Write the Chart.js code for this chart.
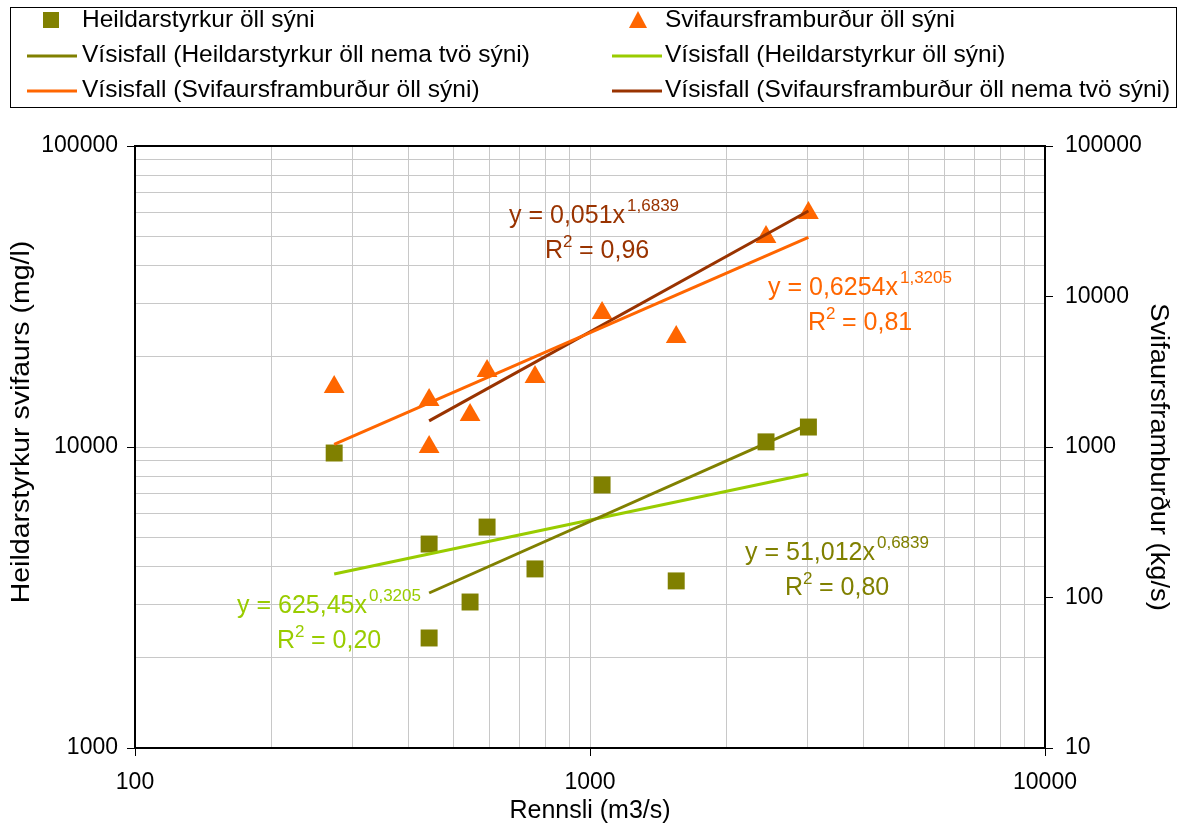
<!DOCTYPE html>
<html>
<head>
<meta charset="utf-8">
<script src="https://cdn.jsdelivr.net/npm/chart.js@4/dist/chart.umd.min.js"></script>
<style>
  html, body { margin: 0; padding: 0; background: #fff; }
  #wrap { width: 1179px; height: 825px; }
</style>
</head>
<body>
<div id="wrap"><canvas id="chart" width="1179" height="825"></canvas></div>
<script>
'use strict';

// samples: discharge (m3/s), total concentration (mg/l), suspended load (kg/s)
var rennsli = [274, 443, 443, 545, 594, 757, 1063, 1547, 2437, 3020];
var heildarstyrkur = [9550, 4760, 2320, 3055, 5420, 3935, 7480, 3590, 10400, 11650];
var svifaurs = [2505, 2050, 1000, 1633, 3200, 2920, 7770, 5380, 24850, 35900];

// power-law trendlines, end points
var tlHeildNemaX = [443, 3020], tlHeildNemaY = [3273, 11900];
var tlHeildAllX = [274, 3020], tlHeildAllY = [3785, 8130];
var tlSvifAllX = [274, 3020], tlSvifAllY = [1040, 24700];
var tlSvifNemaX = [443, 3020], tlSvifNemaY = [1490, 36980];

var xTicks = [100, 200, 300, 400, 500, 600, 700, 800, 900, 1000, 2000, 3000, 4000, 5000, 6000, 7000, 8000, 9000, 10000];
var yTicks = [1000, 2000, 3000, 4000, 5000, 6000, 7000, 8000, 9000, 10000, 20000, 30000, 40000, 50000, 60000, 70000, 80000, 90000, 100000];
var y2Ticks = [10, 100, 1000, 10000, 100000];

var OLIVE = '#808000', LIME = '#99CC00', ORANGE = '#FF6600', BROWN = '#993300';
var FONT = "'Liberation Sans', Arial, sans-serif";

function pts(xs, ys) {
    return xs.map(function(x, i) { return {x: x, y: ys[i]}; });
}

function isMajor(v) {
    var l = Math.log10(v);
    return Math.abs(l - Math.round(l)) < 1e-9;
}

function fixTicks(list) {
    return function(scale) {
        scale.ticks = list.map(function(v) { return {value: v}; });
    };
}

function fixSize(w, h) {
    return function(scale) {
        if (w) scale.width = w;
        if (h) scale.height = h;
    };
}

var legendItems = [
    {text: 'Heildarstyrkur öll sýni', type: 'square', color: OLIVE, col: 0, row: 0},
    {text: 'Svifaursframburður öll sýni', type: 'triangle', color: ORANGE, col: 1, row: 0},
    {text: 'Vísisfall (Heildarstyrkur öll nema tvö sýni)', type: 'line', color: OLIVE, col: 0, row: 1},
    {text: 'Vísisfall (Heildarstyrkur öll sýni)', type: 'line', color: LIME, col: 1, row: 1},
    {text: 'Vísisfall (Svifaursframburður öll sýni)', type: 'line', color: ORANGE, col: 0, row: 2},
    {text: 'Vísisfall (Svifaursframburður öll nema tvö sýni)', type: 'line', color: BROWN, col: 1, row: 2}
];

var equations = [
    {x: 509, y: 216, base: 'y = 0,051x', exp: '1,6839', r2: '0,96', rx: 545, color: BROWN},
    {x: 768, y: 288, base: 'y = 0,6254x', exp: '1,3205', r2: '0,81', rx: 808, color: ORANGE},
    {x: 745, y: 553, base: 'y = 51,012x', exp: '0,6839', r2: '0,80', rx: 785, color: OLIVE},
    {x: 237, y: 606, base: 'y = 625,45x', exp: '0,3205', r2: '0,20', rx: 277, color: LIME}
];

// vertical text in the picture is a little stretched along its length
function drawVertical(ctx, text, x, y, angle, stretch) {
    ctx.save();
    ctx.translate(x, y);
    ctx.rotate(angle);
    ctx.scale(stretch, 1);
    ctx.fillText(text, 0, 0);
    ctx.restore();
}

var decorPlugin = {
    id: 'decor',
    beforeDatasetsDraw: function(chart) {
        var ctx = chart.ctx, a = chart.chartArea;
        ctx.save();
        ctx.strokeStyle = '#000';
        ctx.lineWidth = 2;
        ctx.strokeRect(a.left, a.top, a.right - a.left, a.bottom - a.top);
        ctx.restore();
    },
    afterDraw: function(chart) {
        var ctx = chart.ctx, a = chart.chartArea;
        ctx.save();

        // legend box
        ctx.strokeStyle = '#000';
        ctx.lineWidth = 1;
        ctx.strokeRect(10.5, 7.5, 1166, 100);
        ctx.font = '24.5px ' + FONT;
        ctx.textBaseline = 'middle';
        ctx.textAlign = 'left';
        legendItems.forEach(function(it) {
            var x0 = it.col ? 612 : 27, y = 20 + it.row * 35;
            ctx.fillStyle = it.color;
            ctx.strokeStyle = it.color;
            if (it.type == 'square') {
                ctx.fillRect(x0 + 16, y - 8, 16, 16);
            } else if (it.type == 'triangle') {
                ctx.beginPath();
                ctx.moveTo(x0 + 26, y - 9);
                ctx.lineTo(x0 + 35, y + 8);
                ctx.lineTo(x0 + 17, y + 8);
                ctx.closePath();
                ctx.fill();
            } else {
                ctx.lineWidth = 3;
                ctx.beginPath();
                ctx.moveTo(x0, y + 1);
                ctx.lineTo(x0 + 50, y + 1);
                ctx.stroke();
            }
            ctx.fillStyle = '#000';
            ctx.fillText(it.text, x0 + (it.col ? 53 : 55), y);
        });

        // trendline equations
        equations.forEach(function(eq) {
            ctx.fillStyle = eq.color;
            ctx.font = '25px ' + FONT;
            ctx.fillText(eq.base, eq.x, eq.y);
            var w = ctx.measureText(eq.base).width;
            ctx.font = '17px ' + FONT;
            ctx.fillText(eq.exp, eq.x + w + 2, eq.y - 10);
            ctx.font = '25px ' + FONT;
            ctx.fillText('R', eq.rx, eq.y + 35);
            var rw = ctx.measureText('R').width;
            ctx.font = '17px ' + FONT;
            ctx.fillText('2', eq.rx + rw, eq.y + 26);
            ctx.font = '25px ' + FONT;
            ctx.fillText(' = ' + eq.r2, eq.rx + rw + 9, eq.y + 35);
        });

        // axis titles
        ctx.fillStyle = '#000';
        ctx.font = '25px ' + FONT;
        ctx.textAlign = 'center';
        ctx.fillText('Rennsli (m3/s)', (a.left + a.right) / 2, 811);
        drawVertical(ctx, 'Heildarstyrkur svifaurs (mg/l)', 22, 422, -Math.PI / 2, 1.14);
        drawVertical(ctx, 'Svifaursframburður (kg/s)', 1158, 457, Math.PI / 2, 1.09);

        ctx.restore();
    }
};

var tickFont = {family: FONT, size: 23};

new Chart(document.getElementById('chart'), {
    type: 'scatter',
    data: {
        datasets: [
            {label: 'Vísisfall (Heildarstyrkur öll nema tvö sýni)', type: 'line', data: pts(tlHeildNemaX, tlHeildNemaY),
             borderColor: OLIVE, borderWidth: 3, pointRadius: 0, fill: false, yAxisID: 'y'},
            {label: 'Vísisfall (Heildarstyrkur öll sýni)', type: 'line', data: pts(tlHeildAllX, tlHeildAllY),
             borderColor: LIME, borderWidth: 3, pointRadius: 0, fill: false, yAxisID: 'y'},
            {label: 'Vísisfall (Svifaursframburður öll sýni)', type: 'line', data: pts(tlSvifAllX, tlSvifAllY),
             borderColor: ORANGE, borderWidth: 3, pointRadius: 0, fill: false, yAxisID: 'y2'},
            {label: 'Vísisfall (Svifaursframburður öll nema tvö sýni)', type: 'line', data: pts(tlSvifNemaX, tlSvifNemaY),
             borderColor: BROWN, borderWidth: 3, pointRadius: 0, fill: false, yAxisID: 'y2'},
            {label: 'Heildarstyrkur öll sýni', data: pts(rennsli, heildarstyrkur), yAxisID: 'y',
             pointStyle: 'rect', pointRadius: 12, pointHoverRadius: 12,
             backgroundColor: OLIVE, borderColor: OLIVE, borderWidth: 0},
            {label: 'Svifaursframburður öll sýni', data: pts(rennsli, svifaurs), yAxisID: 'y2',
             pointStyle: 'triangle', pointRadius: 12, pointHoverRadius: 12,
             backgroundColor: ORANGE, borderColor: ORANGE, borderWidth: 0}
        ]
    },
    options: {
        responsive: false,
        animation: false,
        events: [],
        layout: {padding: {top: 146, left: 0, right: 0, bottom: 0}},
        plugins: {legend: {display: false}, tooltip: {enabled: false}},
        scales: {
            x: {
                type: 'logarithmic', position: 'bottom', min: 100, max: 10000,
                afterBuildTicks: fixTicks(xTicks),
                afterFit: fixSize(0, 77),
                border: {display: false},
                grid: {color: '#c8c8c8', lineWidth: 1, tickLength: 8,
                       tickColor: function(c) { return isMajor(c.tick.value) ? '#000' : 'rgba(0,0,0,0)'; }},
                ticks: {font: tickFont, color: '#000', padding: 13, autoSkip: false, maxRotation: 0,
                        callback: function(v) { return isMajor(v) ? String(v) : ''; }}
            },
            y: {
                type: 'logarithmic', position: 'left', min: 1000, max: 100000,
                afterBuildTicks: fixTicks(yTicks),
                afterFit: fixSize(135, 0),
                border: {display: false},
                grid: {color: '#c8c8c8', lineWidth: 1, tickLength: 8,
                       tickColor: function(c) { return isMajor(c.tick.value) ? '#000' : 'rgba(0,0,0,0)'; }},
                ticks: {font: tickFont, color: '#000', padding: 9, autoSkip: false,
                        callback: function(v) { return isMajor(v) ? String(v) : ''; }}
            },
            y2: {
                type: 'logarithmic', position: 'right', min: 10, max: 100000,
                afterBuildTicks: fixTicks(y2Ticks),
                afterFit: fixSize(134, 0),
                border: {display: false},
                grid: {drawOnChartArea: false, tickLength: 8, tickColor: '#000'},
                ticks: {font: tickFont, color: '#000', padding: 12, autoSkip: false,
                        callback: function(v) { return String(v); }}
            }
        }
    },
    plugins: [decorPlugin]
});
</script>
</body>
</html>
